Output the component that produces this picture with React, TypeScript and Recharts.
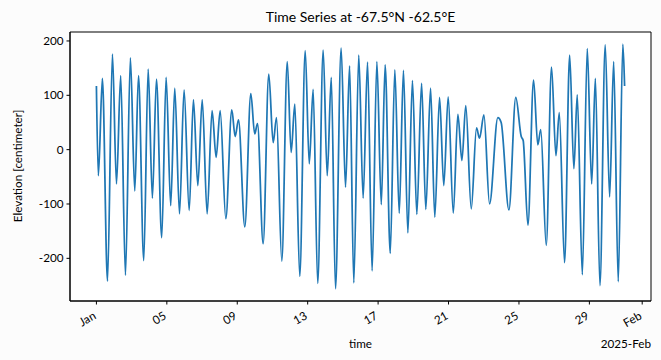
import React from 'react';
import {
  LineChart,
  Line,
  XAxis,
  YAxis,
  CartesianGrid,
  ReferenceArea,
} from 'recharts';

// days since 2025-01-01 00:00, read at each turning point of the curve
const dayOffsets: number[] = [
  0, 0.11, 0.34, 0.63, 0.91, 1.14, 1.38, 1.65, 1.93, 2.18,
  2.39, 2.69, 2.94, 3.18, 3.41, 3.71, 3.96, 4.22, 4.45, 4.72,
  4.98, 5.27, 5.51, 5.76, 6.01, 6.29, 6.57, 6.8, 7.03, 7.35,
  7.69, 7.88, 8.07, 8.43, 8.77, 8.99, 9.15, 9.47, 9.79, 10.04,
  10.23, 10.53, 10.84, 11.06, 11.27, 11.55, 11.86, 12.09, 12.31, 12.57,
  12.88, 13.11, 13.34, 13.58, 13.9, 14.15, 14.38, 14.62, 14.9, 15.15,
  15.4, 15.66, 15.93, 16.18, 16.4, 16.69, 16.95, 17.2, 17.44, 17.69,
  17.95, 18.2, 18.47, 18.71, 18.98, 19.22, 19.49, 19.73, 19.98, 20.27,
  20.53, 20.76, 20.98, 21.29, 21.59, 21.76, 22.01, 22.33, 22.8, 22.99,
  23.43, 23.82, 24.13, 24.24, 24.51, 24.83, 25.07, 25.24, 25.55, 25.85,
  26.1, 26.29, 26.59, 26.88, 27.12, 27.31, 27.6, 27.88, 28.13, 28.34,
  28.6, 28.9, 29.15, 29.38, 29.64, 29.9, 30.0,
];

// elevation in centimetres at the same instants
const elevation: number[] = [
  117, -48, 131, -242, 176, -63, 136, -231, 169, -76,
  136, -204, 148, -89, 130, -162, 133, -103, 113, -118,
  110, -112, 92, -66, 92, -118, 72, -14, 72, -127,
  73, 24, 55, -142, 103, 29, 48, -173, 139, 13,
  59, -205, 162, -5, 84, -233, 182, -26, 111, -246,
  183, -48, 133, -256, 187, -69, 154, -245, 174, -89,
  161, -223, 162, -101, 156, -191, 147, -117, 146, -153,
  127, -119, 122, -110, 113, -124, 96, -66, 97, -117,
  65, -20, 81, -109, 40, 21, 64, -100, 59, 50,
  -111, 96, 24, 17, -139, 128, 9, 37, -176, 152,
  -11, 68, -208, 174, -35, 101, -230, 186, -63, 131,
  -250, 193, -87, 162, -243, 194, 117,
];

const dayTicks: number[] = [0, 4, 8, 12, 16, 20, 24, 28, 31];
const dayTickLabels: string[] = ['Jan', '05', '09', '13', '17', '21', '25', '29', 'Feb'];
const elevationTicks: number[] = [-200, -100, 0, 100, 200];

const data = dayOffsets.map((t, i) => ({ t, value: elevation[i] }));

const FONT = 'Lato, "DejaVu Sans", sans-serif';
const X_DOMAIN: [number, number] = [-1.5, 31.5];
const Y_DOMAIN: [number, number] = [-278.5, 216.5];

const DateTick = (props: any) => {
  const { x, y, payload } = props;
  const idx = dayTicks.indexOf(payload.value);
  const label = idx >= 0 ? dayTickLabels[idx] : '';
  return (
    <g transform={`translate(${x - 4},${y + 4})`}>
      <text
        transform='rotate(-30)'
        textAnchor='end'
        dy='0.75em'
        fontFamily={FONT}
        fontSize={11.7}
        fill='#000'
      >
        {label}
      </text>
    </g>
  );
};

const App: React.FC = () => {
  return (
    <div
      style={{
        position: 'absolute',
        left: 0,
        top: 0,
        width: 661,
        height: 360,
        background: '#fcfcfc',
        fontFamily: FONT,
      }}
    >
      <div
        style={{
          position: 'absolute',
          left: 70,
          width: 581,
          top: 8,
          lineHeight: '18px',
          textAlign: 'center',
          fontSize: 14,
          color: '#000',
        }}
      >
        Time Series at -67.5°N -62.5°E
      </div>
      <LineChart
        width={661}
        height={360}
        data={data}
        margin={{ top: 32, right: 10, bottom: 0, left: 0 }}
      >
        <CartesianGrid fill='#ffffff' horizontal={false} vertical={false} />
        <XAxis
          dataKey='t'
          type='number'
          domain={X_DOMAIN}
          ticks={dayTicks}
          allowDataOverflow
          height={59}
          tickSize={3.5}
          tickLine={{ stroke: '#000' }}
          axisLine={{ stroke: '#000' }}
          tick={<DateTick />}
          interval={0}
        />
        <YAxis
          type='number'
          domain={Y_DOMAIN}
          ticks={elevationTicks}
          allowDataOverflow
          width={70}
          tickSize={3.5}
          tickMargin={3}
          tickLine={{ stroke: '#000' }}
          axisLine={{ stroke: '#000' }}
          tick={{ fill: '#000', fontSize: 11.7, fontFamily: FONT }}
          interval={0}
        />
        <Line
          type='monotone'
          dataKey='value'
          stroke='#1f77b4'
          strokeWidth={1.75}
          dot={false}
          isAnimationActive={false}
        />
        <ReferenceArea
          x1={X_DOMAIN[0]}
          x2={X_DOMAIN[1]}
          y1={Y_DOMAIN[0]}
          y2={Y_DOMAIN[1]}
          fill='none'
          stroke='#000'
          strokeWidth={1}
          ifOverflow='extendDomain'
        />
      </LineChart>
      <div
        style={{
          position: 'absolute',
          left: 4,
          top: 166,
          width: 0,
          height: 0,
        }}
      >
        <div
          style={{
            position: 'absolute',
            transform: 'translate(-50%, -50%) rotate(-90deg)',
            left: 13,
            top: 0,
            whiteSpace: 'nowrap',
            fontSize: 11.7,
            color: '#000',
          }}
        >
          Elevation [centimeter]
        </div>
      </div>
      <div
        style={{
          position: 'absolute',
          left: 70,
          width: 581,
          top: 335,
          lineHeight: '16px',
          textAlign: 'center',
          fontSize: 11.7,
          color: '#000',
        }}
      >
        time
      </div>
      <div
        style={{
          position: 'absolute',
          right: 10,
          top: 335,
          lineHeight: '16px',
          fontSize: 11.7,
          color: '#000',
        }}
      >
        2025-Feb
      </div>
    </div>
  );
};

export default App;
